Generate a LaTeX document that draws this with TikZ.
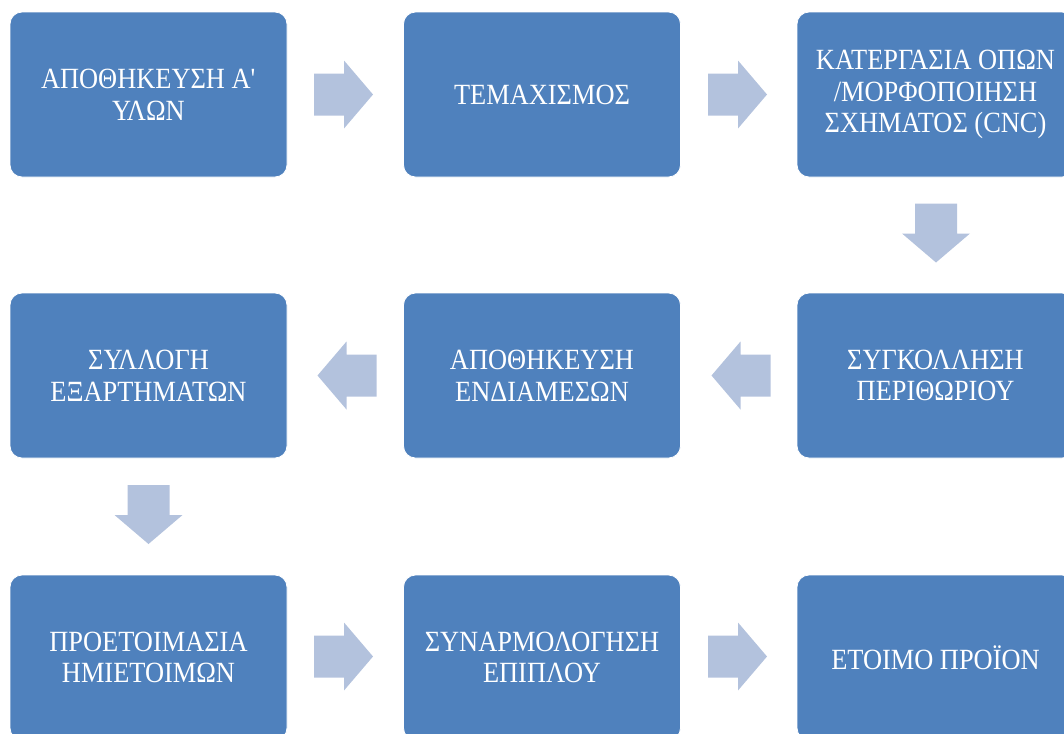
\documentclass[tikz,border=0pt]{standalone}
\usepackage{fontspec}
\setmainfont{Liberation Serif}[FakeStretch=0.9]
\usepackage{tikz}

\definecolor{boxblue}{HTML}{4F81BD}
\definecolor{arrowblue}{HTML}{B3C2DD}

\tikzset{
	stepbox/.style={rectangle,rounded corners=9pt,draw=white,line width=0.6pt,fill=boxblue,
		minimum width=207.75pt,minimum height=123.75pt,text=white,align=center,
		font=\fontsize{22}{23.75}\selectfont},
	flowarrow/.pic={
		\fill[arrowblue] (-29.5,-21) -- (0.5,-21) -- (0.5,-34) -- (29.5,0)
			-- (0.5,34) -- (0.5,21) -- (-29.5,21) -- cycle;
	}
}

\begin{document}
\begin{tikzpicture}[x=0.75pt,y=-0.75pt]
		\clip (0,0) rectangle (1064,733);
%		\draw[help lines,step=100] (0,0) grid (1064,733);
		\path (148.5,94.5) coordinate (r1c1);
		\path (542,94.5) coordinate (r1c2);
		\path (935.5,94.5) coordinate (r1c3);
		\path (148.5,375.5) coordinate (r2c1);
		\path (542,375.5) coordinate (r2c2);
		\path (935.5,375.5) coordinate (r2c3);
		\path (148.5,657.5) coordinate (r3c1);
		\path (542,657.5) coordinate (r3c2);
		\path (935.5,657.5) coordinate (r3c3);

		\path (343.5,94.5) coordinate (a_store);
		\path (737.5,94.5) coordinate (a_cut);
		\path (936,233) coordinate (a_cnc);
		\path (741,375.5) coordinate (a_weld);
		\path (347,375.5) coordinate (a_inter);
		\path (148.5,514.5) coordinate (a_collect);
		\path (343.5,656.5) coordinate (a_prep);
		\path (737.5,656.5) coordinate (a_assembly);

		\node[stepbox] (store) at (r1c1) {ΑΠΟΘΗΚΕΥΣΗ Α\textquotesingle\\ΥΛΩΝ};
		\node[stepbox] (cut) at (r1c2) {ΤΕΜΑΧΙΣΜΟΣ};
		\node[stepbox] (cnc) at (r1c3) {ΚΑΤΕΡΓΑΣΙΑ ΟΠΩΝ\\/ΜΟΡΦΟΠΟΙΗΣΗ\\ΣΧΗΜΑΤΟΣ (CNC)};
		\node[stepbox] (weld) at (r2c3) {ΣΥΓΚΟΛΛΗΣΗ\\ΠΕΡΙΘΩΡΙΟΥ};
		\node[stepbox] (inter) at (r2c2) {ΑΠΟΘΗΚΕΥΣΗ\\ΕΝΔΙΑΜΕΣΩΝ};
		\node[stepbox] (collect) at (r2c1) {ΣΥΛΛΟΓΗ\\ΕΞΑΡΤΗΜΑΤΩΝ};
		\node[stepbox] (prep) at (r3c1) {ΠΡΟΕΤΟΙΜΑΣΙΑ\\ΗΜΙΕΤΟΙΜΩΝ};
		\node[stepbox] (assembly) at (r3c2) {ΣΥΝΑΡΜΟΛΟΓΗΣΗ\\ΕΠΙΠΛΟΥ};
		\node[stepbox] (product) at (r3c3) {ΕΤΟΙΜΟ ΠΡΟΪΟΝ};

		\path (a_store) pic (store-cut) {flowarrow};
		\path (a_cut) pic (cut-cnc) {flowarrow};
		\path (a_cnc) pic[rotate=-90] (cnc-weld) {flowarrow};
		\path (a_weld) pic[rotate=180] (weld-inter) {flowarrow};
		\path (a_inter) pic[rotate=180] (inter-collect) {flowarrow};
		\path (a_collect) pic[rotate=-90] (collect-prep) {flowarrow};
		\path (a_prep) pic (prep-assembly) {flowarrow};
		\path (a_assembly) pic (assembly-product) {flowarrow};

	\end{tikzpicture}
\end{document}
